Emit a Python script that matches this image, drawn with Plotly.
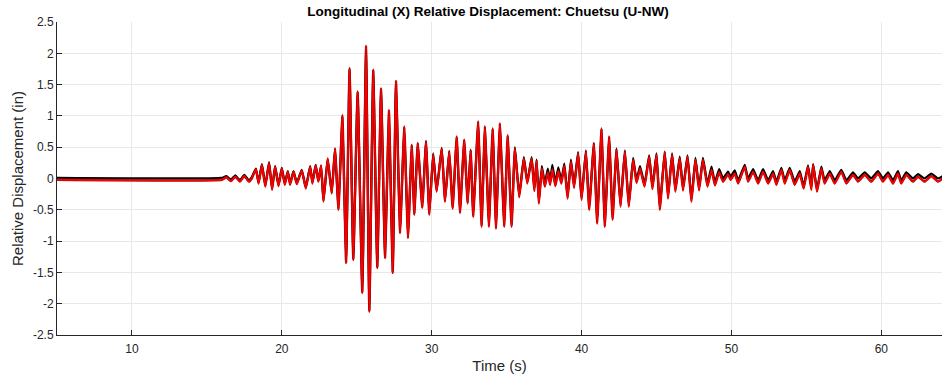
import plotly.graph_objects as go

# Peak / trough times (s) of the relative displacement records
t_peaks = [
    5.0, 16.0, 16.3, 16.6, 16.9, 17.2, 17.5, 17.8, 18.0,
    18.27, 18.45, 18.67, 18.9, 19.15, 19.35, 19.55, 19.78, 20.0, 20.2,
    20.4, 20.55, 20.78, 21.0, 21.33, 21.6, 21.89, 22.04, 22.26, 22.44,
    22.62, 22.78, 23.06, 23.33, 23.55, 23.78, 24.04, 24.29, 24.52,
    24.77, 25.06, 25.37, 25.62, 25.84, 26.1, 26.37, 26.62, 26.89,
    27.15, 27.4, 27.62, 27.89, 28.17, 28.42,
    28.67, 28.84, 29.07, 29.37, 29.62, 29.84, 30.1, 30.33, 30.67, 30.89,
    31.17, 31.4, 31.67, 31.89, 32.17, 32.4, 32.6, 32.77,
    33.1, 33.33, 33.55, 33.82, 34.07, 34.29, 34.55, 34.84, 35.07, 35.33,
    35.55, 35.84, 36.15, 36.38, 36.67, 36.85,
    37.0, 37.15, 37.35, 37.55, 37.75, 37.9, 38.05, 38.25, 38.45, 38.65,
    38.85, 39.07, 39.29, 39.5, 39.77, 40.0, 40.29, 40.51, 40.82, 41.04,
    41.33, 41.55, 41.84, 42.07, 42.33, 42.6, 42.89, 43.15, 43.44, 43.67,
    43.9, 44.2, 44.51, 44.73, 45.0, 45.22, 45.55, 45.77, 46.04, 46.26,
    46.55, 46.77, 47.07, 47.33, 47.6, 47.84, 48.1, 48.4, 48.67, 48.9,
    49.18, 49.44, 49.77,
    49.95, 50.22, 50.45, 50.89, 51.11, 51.45, 51.78, 52.11, 52.45, 52.78,
    53.0, 53.33, 53.56, 53.89, 54.22, 54.56, 54.82, 55.11, 55.33, 55.45,
    55.71, 56.0, 56.22, 56.56, 56.89,
    57.33, 57.67, 58.11, 58.45, 58.89, 59.33, 59.78, 60.11, 60.45, 60.78,
    61.11, 61.33, 61.67, 62.11, 62.45, 62.89, 63.33, 63.78, 64.1,
]

# Computed response (red)
red_disp = [
    -0.02, -0.02, 0.02, -0.04, 0.03, -0.05, 0.04, -0.05, 0.0,
    0.15, -0.08, 0.22, -0.13, 0.25, -0.18, 0.19, -0.12, 0.16, -0.10,
    0.11, -0.10, 0.11, -0.09, 0.13, -0.16, 0.19, -0.08, 0.21, -0.05,
    0.21, -0.37, 0.32, -0.24, 0.48, -0.50, 1.01, -1.35, 1.76,
    -1.30, 1.39, -1.83, 2.12, -2.13, 1.74, -1.43, 1.44, -1.27,
    1.09, -1.51, 1.56, -0.87, 0.83, -0.95,
    0.53, -0.58, 0.56, -0.47, 0.59, -0.58, 0.38, -0.21, 0.48, -0.37,
    0.43, -0.48, 0.67, -0.55, 0.62, -0.40, 0.45, -0.61,
    0.91, -0.77, 0.83, -0.77, 0.80, -0.80, 0.88, -0.77, 0.69, -0.77,
    0.48, -0.30, 0.32, -0.08, 0.32, -0.20,
    0.28, -0.40, 0.16, -0.13, 0.10, -0.10, 0.15, -0.12, 0.12, -0.08,
    0.20, -0.32, 0.27, -0.15, 0.40, -0.34, 0.43, -0.50, 0.56, -0.72,
    0.80, -0.77, 0.67, -0.66, 0.46, -0.45, 0.43, -0.45, 0.30, -0.07,
    0.16, -0.13, 0.35, -0.17, 0.38, -0.50, 0.42, -0.32, 0.38, -0.21,
    0.32, -0.19, 0.35, -0.37, 0.30, -0.19, 0.30, -0.13, 0.14, -0.11,
    0.10, -0.05, 0.07,
    -0.02, 0.08, -0.08, 0.19, -0.05, 0.11, -0.08, 0.11, -0.08, 0.08,
    -0.10, 0.14, -0.08, 0.14, -0.10, 0.08, -0.16, 0.19, -0.18, 0.22,
    -0.21, 0.16, -0.08, 0.08, -0.08,
    0.11, -0.08, 0.06, -0.05, 0.06, -0.05, 0.08, -0.05, 0.06, -0.08,
    0.08, -0.08, 0.06, -0.05, 0.03, -0.05, 0.04, -0.05, 0.0,
]

# Recorded response (black)
black_disp = [
    0.01, 0.01, 0.04, -0.02, 0.05, -0.03, 0.06, -0.03, 0.02,
    0.16, -0.06, 0.23, -0.11, 0.26, -0.16, 0.20, -0.10, 0.17, -0.08,
    0.12, -0.08, 0.12, -0.07, 0.14, -0.14, 0.20, -0.06, 0.22, -0.04,
    0.20, -0.35, 0.31, -0.23, 0.47, -0.49, 1.00, -1.34, 1.75,
    -1.29, 1.38, -1.82, 2.10, -2.11, 1.73, -1.42, 1.43, -1.26,
    1.08, -1.50, 1.55, -0.86, 0.82, -0.94,
    0.54, -0.56, 0.57, -0.45, 0.60, -0.56, 0.40, -0.19, 0.49, -0.35,
    0.44, -0.46, 0.66, -0.53, 0.61, -0.38, 0.46, -0.59,
    0.90, -0.75, 0.82, -0.75, 0.79, -0.78, 0.87, -0.75, 0.68, -0.75,
    0.50, -0.27, 0.34, -0.05, 0.34, -0.16,
    0.30, -0.36, 0.20, -0.08, 0.16, -0.04, 0.22, -0.06, 0.18, -0.03,
    0.24, -0.28, 0.30, -0.11, 0.42, -0.31, 0.45, -0.47, 0.57, -0.69,
    0.79, -0.75, 0.66, -0.63, 0.48, -0.42, 0.45, -0.42, 0.33, -0.03,
    0.20, -0.09, 0.37, -0.13, 0.40, -0.46, 0.43, -0.28, 0.40, -0.17,
    0.35, -0.15, 0.37, -0.33, 0.33, -0.15, 0.33, -0.08, 0.19, -0.06,
    0.15, 0.0, 0.11,
    0.03, 0.13, -0.03, 0.22, 0.0, 0.15, -0.03, 0.15, -0.03, 0.12,
    -0.05, 0.17, -0.03, 0.17, -0.05, 0.12, -0.12, 0.21, -0.14, 0.23,
    -0.17, 0.19, -0.03, 0.12, -0.03,
    0.14, -0.03, 0.10, 0.0, 0.10, 0.0, 0.12, 0.0, 0.10, -0.03,
    0.12, -0.03, 0.10, 0.0, 0.07, 0.0, 0.08, 0.0, 0.04,
]

y_ticks = [-2.5, -2, -1.5, -1, -0.5, 0, 0.5, 1, 1.5, 2, 2.5]
y_tick_text = ["-2.5", "-2", "-1.5", "-1", "-0.5", "0", "0.5", "1", "1.5", "2", "2.5"]
x_ticks = [10, 20, 30, 40, 50, 60]

fig = go.Figure()
fig.add_trace(go.Scatter(
    x=t_peaks, y=black_disp, mode="lines",
    line=dict(color="#000000", width=2.2, shape="spline", smoothing=0.35),
    showlegend=False, hoverinfo="skip",
))
fig.add_trace(go.Scatter(
    x=t_peaks, y=red_disp, mode="lines",
    line=dict(color="#b00000", width=2.4, shape="spline", smoothing=0.35),
    showlegend=False, hoverinfo="skip",
))
fig.add_trace(go.Scatter(
    x=t_peaks, y=red_disp, mode="lines",
    line=dict(color="#ff0000", width=1.3, shape="spline", smoothing=0.35),
    showlegend=False, hoverinfo="skip",
))

sans = "Liberation Sans, Arial, sans-serif"
tick_font = dict(family=sans, size=12, color="#262626")
label_font = dict(family=sans, size=15, color="#262626")

fig.update_layout(
    width=942, height=381,
    margin=dict(l=57, r=0, t=22, b=46),
    paper_bgcolor="white", plot_bgcolor="white",
    font=tick_font,
    title=dict(
        text="<b>Longitudinal (X) Relative Displacement: Chuetsu (U-NW)</b>",
        x=0.487, xref="paper", xanchor="center",
        y=1 - 11 / 381, yref="container", yanchor="middle",
        font=dict(family=sans, size=13.5, color="#000000"),
    ),
    showlegend=False,
)
fig.update_xaxes(
    range=[5, 64.05], tickvals=x_ticks,
    showgrid=True, gridcolor="#e8e8e8", gridwidth=1, zeroline=False,
    showline=True, linecolor="#262626", linewidth=1,
    ticks="inside", ticklen=5, tickcolor="#262626",
    ticklabelstandoff=3,
    title=dict(text="Time (s)", standoff=5, font=label_font),
    tickfont=tick_font,
)
fig.update_yaxes(
    range=[-2.5, 2.5], tickvals=y_ticks, ticktext=y_tick_text,
    showgrid=True, gridcolor="#e8e8e8", gridwidth=1, zeroline=False,
    showline=True, linecolor="#262626", linewidth=1,
    ticks="inside", ticklen=5, tickcolor="#262626",
    title=dict(text="Relative Displacement (in)", standoff=5, font=label_font),
    tickfont=tick_font,
)

fig.write_html("out.html")
